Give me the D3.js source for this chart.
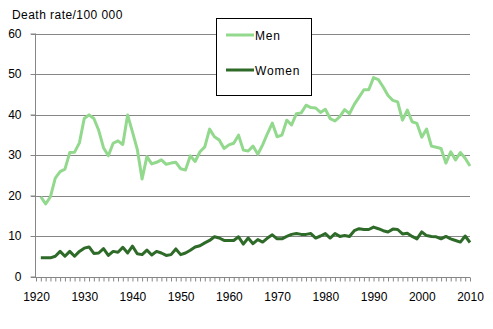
<!DOCTYPE html>
<html>
<head>
<meta charset="utf-8">
<script src="https://cdn.jsdelivr.net/npm/d3@7"></script>
<style>
  html, body { margin: 0; padding: 0; background: #fff; }
  svg { display: block; font-family: "Liberation Sans", Arial, sans-serif; }
</style>
</head>
<body>
<svg id="chart" width="493" height="329"></svg>
<script>
const years = d3.range(1921, 2011);
const men = [
  19.7, 17.9, 19.7, 24.3, 25.9, 26.5, 30.6, 30.7, 33.0, 39.0,
  39.9, 39.0, 36.1, 31.8, 29.8, 32.9, 33.5, 32.6, 39.9, 35.7,
  31.4, 24.1, 29.6, 27.8, 28.2, 28.8, 27.7, 28.0, 28.2, 26.6,
  26.3, 29.8, 28.4, 30.8, 32.0, 36.4, 34.5, 33.7, 31.6, 32.5,
  32.9, 34.9, 31.2, 31.0, 32.2, 30.2, 32.5, 35.3, 37.9, 34.5,
  34.9, 38.6, 37.4, 40.2, 40.4, 42.3, 41.7, 41.6, 40.5, 41.3,
  39.0, 38.4, 39.5, 41.2, 40.2, 42.5, 44.3, 46.1, 46.1, 49.1,
  48.6, 46.8, 44.7, 43.5, 43.1, 38.6, 41.1, 38.2, 37.8, 34.4,
  36.4, 32.2, 31.9, 31.6, 28.0, 30.8, 28.8, 30.6, 29.2, 27.3
];
const women = [
  4.6, 4.6, 4.6, 5.0, 6.2, 5.0, 6.2, 5.0, 6.2, 7.0,
  7.3, 5.7, 5.8, 6.9, 5.2, 6.2, 6.0, 7.2, 5.8, 7.5,
  5.6, 5.4, 6.5, 5.3, 6.2, 5.8, 5.2, 5.4, 6.8, 5.4,
  5.8, 6.5, 7.3, 7.6, 8.3, 8.9, 9.8, 9.5, 8.9, 8.9,
  8.9, 9.8, 8.0, 9.5, 8.1, 9.1, 8.5, 9.5, 10.3, 9.3,
  9.3, 9.9, 10.4, 10.6, 10.4, 10.4, 10.6, 9.5, 10.0, 10.6,
  9.5, 10.6, 9.9, 10.1, 9.9, 11.3, 11.8, 11.6, 11.6, 12.2,
  11.8, 11.3, 11.0, 11.7, 11.6, 10.5, 10.7, 9.9, 9.3, 11.0,
  10.1, 9.9, 9.8, 9.3, 9.9, 9.3, 8.9, 8.5, 10.0, 8.4
];
const xTickLabels = [1920, 1930, 1940, 1950, 1960, 1970, 1980, 1990, 2000, 2010];
const yTickLabels = [0, 10, 20, 30, 40, 50, 60];
const seriesNames = ["Men", "Women"];
const seriesColors = ["#92d98d", "#2e6a28"];
const yTitle = "Death rate/100 000";

const svg = d3.select("#chart");
const x = d3.scaleLinear().domain([1920, 2010]).range([36, 470]);
const y = d3.scaleLinear().domain([0, 60]).range([276.5, 33.5]);
const grid = "#868686";

// gridlines
svg.append("g").selectAll("line").data(yTickLabels.filter(d => d > 0)).join("line")
  .attr("x1", 31).attr("x2", 470)
  .attr("y1", d => Math.round(y(d)) + 0.5).attr("y2", d => Math.round(y(d)) + 0.5)
  .attr("stroke", grid).attr("stroke-width", 1);

// y axis
const yAxis = d3.axisLeft(y).tickValues(yTickLabels).tickSize(5).tickPadding(9).tickFormat(d3.format("d"));
const gy = svg.append("g").attr("transform", "translate(35.5,0)").call(yAxis);
gy.select(".domain").attr("stroke", grid).attr("d", `M0,${y(60)}V${Math.round(y(0))+0.5}`);
gy.selectAll(".tick line").attr("stroke", grid);
gy.selectAll(".tick text").attr("font-size", 12).attr("fill", "#000")
  .attr("font-family", "Liberation Sans, Arial, sans-serif");

// x axis with yearly ticks
const xAxisMinor = d3.axisBottom(x).tickValues(d3.range(1920, 2011)).tickSize(4).tickFormat("");
const gxm = svg.append("g").attr("transform", `translate(0,${Math.round(y(0))+0.5})`).call(xAxisMinor);
gxm.select(".domain").attr("stroke", grid).attr("d", `M31,0H470`);
gxm.selectAll(".tick line").attr("stroke", grid);

const xAxis = d3.axisBottom(x).tickValues(xTickLabels).tickSize(0).tickPadding(15).tickFormat(d3.format("d"));
const gx = svg.append("g").attr("transform", `translate(0,${Math.round(y(0))+0.5})`).call(xAxis);
gx.select(".domain").remove();
gx.selectAll(".tick text").attr("font-size", 12).attr("fill", "#000")
  .attr("font-family", "Liberation Sans, Arial, sans-serif");

// title
svg.append("text").attr("x", 12).attr("y", 19).attr("font-size", 12).attr("letter-spacing", 0.45)
  .attr("fill", "#000").text(yTitle);

// lines
const line = d3.line().x((d, i) => x(years[i])).y(d => y(d));
[men, women].forEach((s, k) => {
  svg.append("path").datum(s).attr("d", line).attr("fill", "none")
    .attr("stroke", seriesColors[k]).attr("stroke-width", 3).attr("stroke-linejoin", "round");
});

// legend
const lg = svg.append("g");
lg.append("rect").attr("x", 216.5).attr("y", 18.5).attr("width", 95).attr("height", 77)
  .attr("fill", "#fff").attr("stroke", "#000").attr("stroke-width", 1);
const legendY = [35, 70];
seriesNames.forEach((n, k) => {
  lg.append("line").attr("x1", 226).attr("x2", 254).attr("y1", legendY[k]).attr("y2", legendY[k])
    .attr("stroke", seriesColors[k]).attr("stroke-width", 3);
  lg.append("text").attr("x", 255).attr("y", legendY[k] + 4.5).attr("font-size", 12)
    .attr("letter-spacing", 0.8).attr("fill", "#000").text(n);
});
</script>
</body>
</html>
